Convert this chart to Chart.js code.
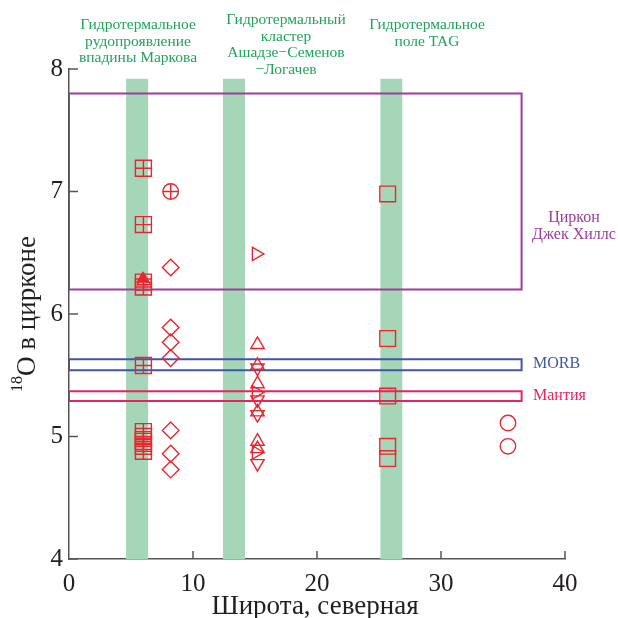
<!DOCTYPE html>
<html><head><meta charset="utf-8">
<script src="https://cdn.jsdelivr.net/npm/chart.js@4"></script>
<style>html,body{margin:0;padding:0;background:#fff}#wrap{width:618px;height:618px;position:relative}</style>
</head><body><div id="wrap"><canvas id="c"></canvas></div>
<script>
// ---- data ----
const xTicks = [0, 10, 20, 30, 40];
const yTicks = [4, 5, 6, 7, 8];
const bandRanges = [[4.6, 6.4], [12.4, 14.2], [25.1, 26.9]];
const bandTop = 7.92;
const jackHillsBox = [0, 36.5, 6.2, 7.8];
const morbBox = [0, 36.5, 5.54, 5.63];
const mantleBox = [0, 36.5, 5.29, 5.37];

const crossSquareX = [6.0, 6.0, 6.0, 6.0, 6.0, 6.0, 6.0, 6.0, 6.0, 6.0];
const crossSquareY = [7.19, 6.73, 6.26, 6.22, 5.58, 5.04, 5.00, 4.96, 4.92, 4.88];
const triFilledX = [5.95];
const triFilledY = [6.29];
const circlePlusX = [8.2];
const circlePlusY = [7.0];
const diamondX = [8.2, 8.2, 8.2, 8.2, 8.2, 8.2, 8.2];
const diamondY = [6.38, 5.89, 5.77, 5.64, 5.05, 4.86, 4.73];
const triUpX = [15.2, 15.2, 15.2, 15.2, 15.2, 15.2];
const triUpY = [5.75, 5.58, 5.43, 5.20, 4.96, 4.90];
const triDownX = [15.2, 15.2, 15.2, 15.2];
const triDownY = [5.56, 5.30, 5.18, 4.78];
const triRightX = [15.1, 15.1, 15.1];
const triRightY = [6.49, 5.36, 4.87];
const squareX = [25.7, 25.7, 25.7, 25.7, 25.7];
const squareY = [6.98, 5.80, 5.33, 4.92, 4.82];
const circleX = [35.4, 35.4];
const circleY = [5.11, 4.92];

const siteLabels = [
  ["Гидротермальное", "рудопроявление", "впадины Маркова"],
  ["Гидротермальный", "кластер", "Ашадзе−Семенов", "−Логачев"],
  ["Гидротермальное", "поле TAG"]
];
const boxLabels = [["Циркон", "Джек Хиллс"], ["MORB"], ["Мантия"]];

// ---- styles / layout ----
const RED = '#e8262d';
const GREEN_BAND = '#a6d6b8';
const GREEN_TEXT = '#1fa45a';
const PURPLE = '#9e3d9c';
const BLUE = '#4256a6';
const PINK = '#e8235f';
const SERIF = '"Liberation Serif", "DejaVu Serif", serif';

const siteLabelPos = [[138, 25], [286, 20], [427, 25]];
const boxLabelPos = [[574, 218, 'center', PURPLE], [533, 364, 'left', BLUE], [533, 396, 'left', PINK]];

function pts(xs, ys) { return xs.map((x, i) => ({ x: x, y: ys[i] })); }
function rectPts(b) {
  return [{ x: b[0], y: b[2] }, { x: b[0], y: b[3] }, { x: b[1], y: b[3] }, { x: b[1], y: b[2] }, { x: b[0], y: b[2] }];
}
function marker(data, style, r, rot, fill) {
  return {
    data: data, showLine: false, pointStyle: style, pointRadius: r, pointHoverRadius: r,
    rotation: rot || 0, borderColor: RED, pointBorderColor: RED, pointBorderWidth: 1.4,
    pointBackgroundColor: fill ? RED : 'rgba(0,0,0,0)', order: 0
  };
}

const datasets = [];
// markers (on top)
datasets.push(marker(pts(crossSquareX, crossSquareY), 'rect', 11.3));
datasets.push(marker(pts(crossSquareX, crossSquareY), 'cross', 8));
datasets.push(marker(pts(triFilledX, triFilledY), 'triangle', 6, 0, true));
datasets.push(marker(pts(triFilledX.map(v => v + 0.08), triFilledY.map(v => v - 0.02)), 'triangle', 7.7));
datasets.push(marker(pts(circlePlusX, circlePlusY), 'circle', 7.8));
datasets.push(marker(pts(circlePlusX, circlePlusY), 'cross', 7.8));
datasets.push(marker(pts(diamondX, diamondY), 'rectRot', 8.3));
datasets.push(marker(pts(triUpX, triUpY), 'triangle', 7.7, 0));
datasets.push(marker(pts(triDownX, triDownY), 'triangle', 7.7, 180));
datasets.push(marker(pts(triRightX, triRightY), 'triangle', 7.7, 90));
datasets.push(marker(pts(squareX, squareY), 'rect', 11.1));
datasets.push(marker(pts(circleX, circleY), 'circle', 7.7));
// boxes
[[jackHillsBox, PURPLE], [morbBox, BLUE], [mantleBox, PINK]].forEach(([b, c]) => {
  datasets.push({ data: rectPts(b), showLine: true, borderColor: c, borderWidth: 2, pointRadius: 0,
    pointHoverRadius: 0, fill: false, tension: 0, order: 1 });
});
// bands
bandRanges.forEach(r => {
  datasets.push({ data: [{ x: r[0], y: bandTop }, { x: r[1], y: bandTop }], showLine: true, borderWidth: 0,
    borderColor: GREEN_BAND, backgroundColor: GREEN_BAND, fill: 'start', pointRadius: 0, pointHoverRadius: 0, order: 2 });
});

const overlay = {
  id: 'overlay',
  afterDraw(chart) {
    const { ctx, scales: { x, y } } = chart;
    ctx.save();
    ctx.strokeStyle = '#555'; ctx.lineWidth = 1.5;
    xTicks.forEach(v => {
      if (v === xTicks[0]) return;
      const px = x.getPixelForValue(v);
      ctx.beginPath(); ctx.moveTo(px, y.bottom); ctx.lineTo(px, y.bottom - 8); ctx.stroke();
    });
    yTicks.forEach(v => {
      const py = y.getPixelForValue(v);
      ctx.beginPath(); ctx.moveTo(x.left, py); ctx.lineTo(x.left + 9, py); ctx.stroke();
    });
    // site labels
    ctx.fillStyle = GREEN_TEXT; ctx.font = '15.5px ' + SERIF; ctx.textAlign = 'center'; ctx.textBaseline = 'middle';
    siteLabels.forEach((lines, i) => {
      lines.forEach((t, j) => ctx.fillText(t, siteLabelPos[i][0], siteLabelPos[i][1] + j * 16.7));
    });
    // box labels
    ctx.font = '16px ' + SERIF;
    boxLabels.forEach((lines, i) => {
      const p = boxLabelPos[i];
      ctx.fillStyle = p[3]; ctx.textAlign = p[2];
      lines.forEach((t, j) => ctx.fillText(t, p[0], p[1] + j * 16.5));
    });
    // x title
    ctx.fillStyle = '#231f20'; ctx.textAlign = 'center'; ctx.textBaseline = 'alphabetic';
    ctx.font = '27px ' + SERIF;
    ctx.fillText('Широта, северная', (x.left + x.right) / 2 - 2, 614);
    // y title with superscript
    ctx.translate(35, 314); ctx.rotate(-Math.PI / 2);
    const supF = '16px ' + SERIF, mainF = '27px ' + SERIF;
    ctx.font = supF; const w1 = ctx.measureText('18').width;
    ctx.font = mainF; const w2 = ctx.measureText('O в цирконе').width;
    let sx = -(w1 + w2) / 2;
    ctx.textAlign = 'left';
    ctx.font = supF; ctx.fillText('18', sx, -13);
    ctx.font = mainF; ctx.fillText('O в цирконе', sx + w1, 0);
    ctx.restore();
  }
};

new Chart(document.getElementById('c'), {
  type: 'scatter',
  data: { datasets: datasets },
  options: {
    responsive: true, maintainAspectRatio: false, animation: false, events: [],
    layout: { padding: { top: 69, right: 53, left: 0, bottom: 0 } },
    plugins: { legend: { display: false }, tooltip: { enabled: false } },
    scales: {
      x: {
        type: 'linear', min: 0, max: 40,
        afterFit(s) { s.height = 59; },
        afterBuildTicks(s) { s.ticks = xTicks.map(v => ({ value: v })); },
        grid: { display: false, drawTicks: false },
        border: { display: true, color: '#555', width: 1.5 },
        ticks: { padding: 10, color: '#231f20', font: { family: SERIF, size: 25 } }
      },
      y: {
        type: 'linear', min: 4, max: 8,
        afterFit(s) { s.width = 69; },
        afterBuildTicks(s) { s.ticks = yTicks.map(v => ({ value: v })); },
        grid: { display: false, drawTicks: false },
        border: { display: true, color: '#555', width: 1.5 },
        ticks: { padding: 6, color: '#231f20', font: { family: SERIF, size: 25 } }
      }
    }
  },
  plugins: [overlay]
});
</script>
</body></html>
